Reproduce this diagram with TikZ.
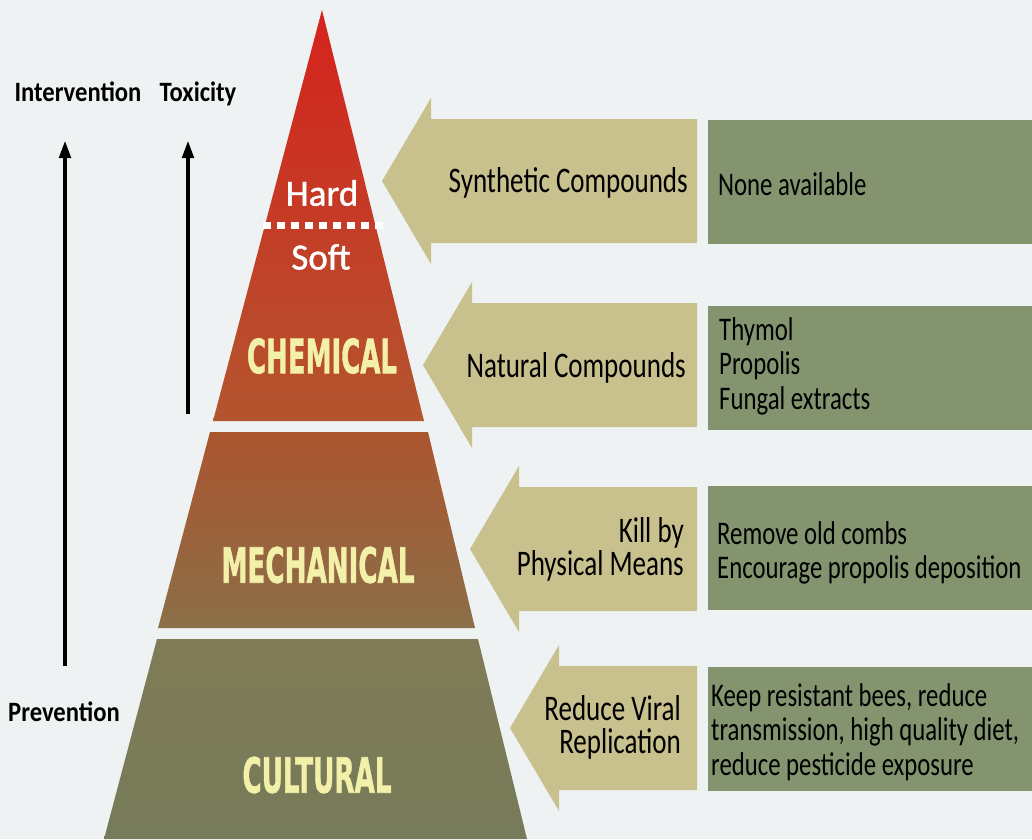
\documentclass[tikz,border=0pt]{standalone}
\usepackage{fontspec}
\usepackage{graphicx}
\setmainfont{Carlito}
\newfontfamily\narrowfont{Carlito}[FakeStretch=0.75]
\newfontfamily\sidefont{Carlito}[FakeStretch=0.88]
\newfontfamily\hardfont{Carlito}[FakeBold=1.2]
\newfontfamily\tierfont{DejaVu Sans}[FakeBold=1.5]
\usetikzlibrary{arrows.meta}
\definecolor{bgcol}{HTML}{EEF2F3}
\definecolor{chemtop}{HTML}{D6221D}
\definecolor{chembot}{HTML}{B3552F}
\definecolor{mechtop}{HTML}{AB552F}
\definecolor{mechbot}{HTML}{8B6F48}
\definecolor{culttop}{HTML}{807B56}
\definecolor{cultbot}{HTML}{767B59}
\definecolor{tan}{HTML}{C8C08D}
\definecolor{sage}{HTML}{83946F}
\definecolor{tieryellow}{HTML}{F2F0A9}
\tikzset{
  tierlabel/.style={text=tieryellow, inner sep=0pt},
  hardsoft/.style={text=white, inner sep=0pt, font=\hardfont\fontsize{37}{40}\selectfont},
  arrowtext/.style={anchor=east, align=right, inner sep=0pt, font=\narrowfont\fontsize{36}{33}\selectfont},
  boxtext/.style={anchor=west, align=left, inner sep=0pt, font=\narrowfont\fontsize{33}{34.5}\selectfont},
  sidelabel/.style={anchor=base, inner sep=0pt, font=\sidefont\fontsize{28}{30}\selectfont\bfseries},
  uparrow/.style={line width=4.5pt, -{Triangle[length=18pt,width=11pt]}}
}
\begin{document}
\begin{tikzpicture}[x=1pt, y=-1pt]
    \useasboundingbox (0,0) rectangle (1032,839);
    \fill[bgcol] (0,0) rectangle (1032,839);
    \shade[top color=chemtop, bottom color=chembot] (322,10) -- (424,421) -- (213,421) -- cycle;
    \shade[top color=mechtop, bottom color=mechbot] (210,432) -- (428,432) -- (475,628) -- (158,628) -- cycle;
    \shade[top color=culttop, bottom color=cultbot] (157,639) -- (478,639) -- (527,839) -- (104,839) -- cycle;
    \draw[white, line width=7pt, dash pattern=on 8pt off 6pt] (263,225) -- (385,225);
    \node[hardsoft] (hard) at (322,193) {Hard};
    \node[hardsoft] (soft) at (321,257) {Soft};
    \node[tierlabel] (chem) at (322,356) {\resizebox{150pt}{35pt}{\tierfont\bfseries CHEMICAL}};
    \node[tierlabel] (mech) at (318,565) {\resizebox{193pt}{36pt}{\tierfont\bfseries MECHANICAL}};
    \node[tierlabel] (cult) at (317,775) {\resizebox{149pt}{36pt}{\tierfont\bfseries CULTURAL}};
    \foreach \tx/\ty in {382/181, 423/365, 470/549, 510/728}
        \fill[tan] (\tx,\ty) -- (\tx+49,\ty-83) -- (\tx+49,\ty-62) -- (697,\ty-62)
            -- (697,\ty+62) -- (\tx+49,\ty+62) -- (\tx+49,\ty+83) -- cycle;
    \foreach \y in {182, 368, 548, 729}
        \fill[sage] (708,\y-62) rectangle (1032,\y+62);
    \node[arrowtext] (synth) at (688,183) {Synthetic Compounds};
    \node[arrowtext] (natural) at (686,368) {Natural Compounds};
    \node[arrowtext] (kill) at (684,549) {Kill by\\Physical Means};
    \node[arrowtext] (viral) at (681,727) {Reduce Viral\\Replication};
    \node[boxtext] (none) at (718,184) {None available};
    \node[boxtext] (natlist) at (719,366) {Thymol\\Propolis\\Fungal extracts};
    \node[boxtext] (mechlist) at (717,553) {Remove old combs\\Encourage propolis deposition};
    \node[boxtext] (cultlist) at (711,732) {Keep resistant bees, reduce\\transmission, high quality diet,\\reduce pesticide exposure};
    \node[sidelabel] (interv) at (78,101) {Intervention};
    \node[sidelabel] (tox) at (198,101) {Toxicity};
    \node[sidelabel] (prev) at (64,721) {Prevention};
    \coordinate (intv-tail) at (65,666);
    \coordinate (intv-tip) at (65,140);
    \coordinate (tox-tail) at (188,414);
    \coordinate (tox-tip) at (188,140);
    \draw[uparrow] (intv-tail) -- (intv-tip);
    \draw[uparrow] (tox-tail) -- (tox-tip);
\end{tikzpicture}
\end{document}
